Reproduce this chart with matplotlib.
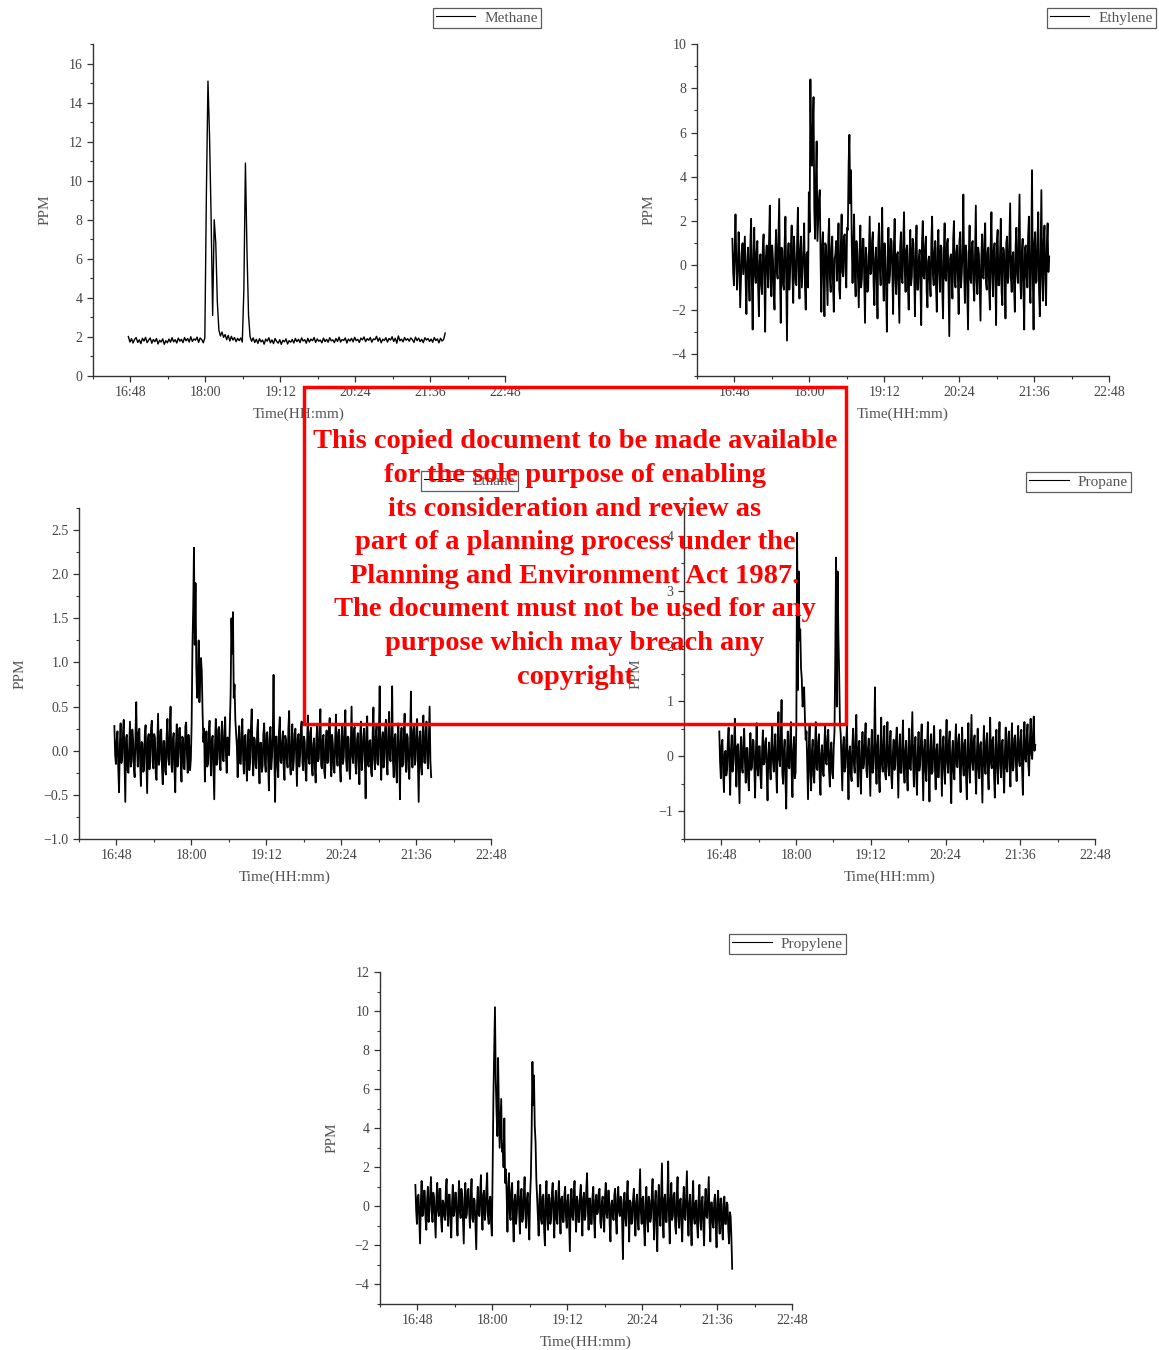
import numpy as np
import matplotlib.pyplot as plt
from matplotlib.patches import Rectangle
from matplotlib.ticker import MultipleLocator

plt.rcParams['font.family'] = ['Liberation Serif', 'DejaVu Serif']

# logging window: first reading 16:46, last reading 304.5 min later
START = "16:46"
SPAN_MIN = 304.5

x_tick_labels = ["16:48", "18:00", "19:12", "20:24", "21:36", "22:48"]
x_range = ["16:12", "22:48"]

# methane: one reading every 1.5 min
methane = [
    2.02, 1.74, 1.91, 1.69, 1.88, 1.97, 1.72, 1.85, 1.66, 1.93, 1.79, 1.98,
    1.71, 1.84, 1.95, 1.68, 1.87, 1.76, 1.92, 1.64, 1.83, 1.74, 1.90, 1.62,
    1.81, 1.70, 1.89, 1.73, 1.96, 1.75, 1.86, 1.69, 1.94, 1.78, 1.88, 1.71,
    1.97, 1.80, 1.92, 1.74, 2.01, 1.77, 1.90, 1.83, 1.99, 1.72, 1.95, 1.86,
    1.70, 1.96, 9.40, 15.1, 12.3, 8.20, 3.10, 8.00, 6.80, 3.80, 2.35, 2.05,
    2.25, 1.98, 2.12, 1.86, 2.08, 1.79, 2.03, 1.84, 1.97, 1.76, 1.93, 1.81,
    1.95, 1.74, 4.40, 10.9, 6.40, 3.10, 2.00, 1.78, 1.95, 1.72, 1.88, 1.67,
    1.91, 1.75, 1.84, 1.63, 1.89, 1.78, 1.96, 1.70, 1.85, 1.66, 1.92, 1.77,
    1.68, 1.86, 1.62, 1.83, 1.75, 1.90, 1.64, 1.81, 1.73, 1.87, 1.69, 1.92,
    1.76, 1.88, 1.71, 1.95, 1.79, 1.86, 1.68, 1.93, 1.74, 1.89, 1.81, 1.97,
    1.72, 1.90, 1.78, 1.84, 1.70, 1.94, 1.76, 1.88, 1.73, 1.96, 1.80, 1.85,
    1.71, 1.92, 1.77, 1.99, 1.74, 1.87, 1.82, 1.95, 1.69, 1.89, 1.79, 1.93,
    1.75, 1.98, 1.81, 1.88, 1.72, 1.94, 1.85, 2.00, 1.76, 1.91, 1.83, 1.97,
    1.73, 1.90, 1.86, 2.03, 1.78, 1.95, 1.70, 1.88, 1.82, 1.96, 1.74, 1.92,
    1.84, 2.01, 1.77, 1.93, 1.68, 2.05, 1.80, 1.89, 1.75, 1.97, 1.83, 1.91,
    1.78, 1.95, 1.86, 1.72, 1.99, 1.81, 1.94, 1.76, 1.88, 1.71, 1.96, 1.84,
    1.92, 1.77, 1.89, 1.73, 1.97, 1.82, 1.90, 1.70, 1.93, 1.79, 1.87, 2.20,
]

# the other four gases: one reading every 0.75 min
ethylene = [
    1.2, -0.3, -0.9, 0.7, 2.3, 0.2, -1.1, -0.2, 1.5, 0.4, -1.9, -0.6, 0.6, 1.0, -0.4, 0.5, 1.3, -0.7, -2.2, 0.1, 0.8, -0.5, -1.6, 0.9,
    2.1, -0.8, -2.9, 0.3, 1.7, -0.4, -0.8, 0.6, 1.1, -1.0, -2.3, 0.2, 0.5, -0.9, -1.3, 0.8, 1.4, -0.5, -3.0, 0.4, 0.9, -0.2, -1.0, 1.1,
    2.7, -0.6, -1.4, 0.9, 0.3, -1.2, -2.0, 0.5, 1.6, -0.3, -0.6, 1.2, 3.0, -0.4, -2.6, 0.8, 0.7, -0.9, -1.1, 1.0, 2.2, -0.7, -3.4, 0.3,
    1.0, -1.1, -0.3, 0.9, 1.8, -0.5, -1.7, 1.3, 0.4, -0.8, -0.9, 1.1, 2.6, -0.2, -1.5, 0.7, 1.3, -1.0, -0.2, 0.6, 1.9, -0.9, -2.0, 0.5,
    0.6, -1.0, 3.3, 1.5, 8.4, 4.8, 4.5, 6.2, 7.6, 2.5, 1.2, 3.8, 5.6, 1.1, 2.0, 3.0, 3.4, 0.4, -2.1, 0.8, 1.5, -0.6, -2.3, 1.0,
    0.9, -0.4, -1.8, 1.2, 2.1, -0.6, -1.2, 0.8, 1.3, -0.9, -2.1, 0.3, 0.5, 1.1, -0.7, 0.4, 1.9, -1.1, -1.5, 0.9, 2.3, -0.3, -0.5, 1.3,
    1.4, -0.2, -1.0, 1.7, 1.6, 4.6, 5.9, 2.8, 4.3, 1.0, -0.8, 0.9, 2.3, -0.5, -1.4, 1.1, 0.7, -0.6, -1.9, 0.5, 1.8, -1.0, -0.6, 1.2,
    1.2, -0.7, -2.6, 0.8, 0.4, -1.2, -1.1, 0.6, 2.2, -0.4, -0.3, 1.1, 1.5, -0.9, -1.8, 0.3, 0.8, -0.6, -2.4, 1.0, 1.9, -0.2, -0.9, 0.7,
    2.6, -0.5, -1.6, 1.0, 0.3, -1.1, -3.0, 0.4, 1.7, -0.8, -0.4, 1.2, 1.1, -0.3, -2.2, 0.9, 2.1, -0.7, -1.3, 0.5, 0.6, -1.0, -2.6, 0.8,
    1.5, -0.6, -0.8, 1.1, 2.4, -0.3, -1.2, 0.7, 0.9, -1.0, -2.0, 0.4, 1.6, -0.9, -0.5, 1.2, 1.0, -0.4, -2.3, 0.6, 1.8, -1.1, -1.1, 0.3,
    0.7, -0.8, -2.7, 1.0, 2.0, -0.5, -0.6, 0.9, 1.3, -1.2, -1.9, 0.2, 0.4, -0.7, -1.4, 1.1, 2.2, -0.4, -0.9, 0.6, 1.1, -1.0, -2.1, 0.8,
    1.6, -0.3, -1.2, 0.9, 0.8, -1.1, -2.4, 0.5, 1.9, -0.6, -0.7, 1.0, 1.2, -0.9, -3.2, 0.3, 0.5, -0.4, -1.5, 1.2, 2.0, -0.8, -1.0, 0.6,
    0.9, -0.5, -2.2, 1.1, 1.5, -1.0, -0.4, 0.7, 3.2, -0.3, -1.7, 0.9, 0.6, -1.2, -2.9, 0.4, 1.8, -0.6, -0.8, 1.0, 1.1, -0.9, -1.6, 0.5,
    2.7, -0.7, -1.3, 0.8, 0.5, -1.1, -2.5, 0.3, 1.4, -0.5, -0.6, 1.2, 1.9, -0.8, -1.1, 0.6, 0.8, -1.0, -2.0, 0.9, 2.4, -0.4, -1.4, 0.7,
    1.0, -0.6, -2.7, 1.1, 1.6, -0.9, -0.9, 0.5, 2.1, -1.2, -1.8, 0.8, 0.7, -0.3, -2.4, 1.0, 1.3, -0.8, -0.5, 1.2, 2.8, -0.6, -1.2, 0.4,
    0.6, -1.0, -2.1, 0.9, 1.7, -0.4, -0.8, 1.1, 3.2, -0.7, -1.5, 0.6, 1.2, -1.1, -2.9, 0.8, 0.9, -0.5, -1.0, 1.3, 2.2, -0.9, -1.7, 0.7,
    4.3, -0.4, -2.9, 1.0, 1.5, -0.8, -0.7, 1.2, 2.4, -1.1, -2.3, 0.6, 3.4, -0.5, -1.6, 1.1, 1.8, -0.7, -1.8, 0.9, 1.9, -0.3, 0.4,
]

ethane = [
    0.28, -0.05, -0.15, 0.12, 0.22, -0.20, -0.47, 0.08, 0.31, -0.14, -0.08, 0.20, 0.35, -0.10, -0.58, 0.15, 0.18, -0.22, -0.25, 0.06, 0.33, -0.18, -0.12, 0.24,
    0.12, -0.20, -0.30, 0.16, 0.55, 0.02, -0.18, 0.21, 0.25, -0.13, -0.40, 0.10, 0.08, -0.24, -0.22, 0.18, 0.29, -0.09, -0.48, 0.14, 0.19, -0.21, -0.05, 0.26,
    0.34, -0.12, -0.20, 0.19, 0.15, -0.26, -0.33, 0.07, 0.42, -0.16, -0.10, 0.23, 0.24, -0.19, -0.38, 0.11, 0.11, -0.23, -0.27, 0.17, 0.36, -0.08, -0.16, 0.22,
    0.50, -0.14, -0.24, 0.13, 0.20, -0.21, -0.47, 0.09, 0.30, -0.18, -0.06, 0.25, 0.26, -0.12, -0.35, 0.16, 0.14, -0.20, -0.21, 0.28, 0.32, -0.05, -0.25, 0.18,
    0.05, -0.22, -0.10, 0.30, 1.15, 1.60, 2.30, 1.20, 1.90, 0.95, 0.60, 0.80, 1.25, 0.55, 0.85, 1.05, 0.90, 0.45, 0.10, 0.25, -0.35, 0.05, 0.22, -0.18,
    -0.15, 0.20, 0.34, -0.08, -0.28, 0.14, 0.17, -0.20, -0.55, 0.10, 0.36, -0.16, -0.09, 0.24, 0.27, -0.13, -0.22, 0.18, 0.33, -0.10, -0.12, 0.21, 0.38, -0.06,
    -0.25, 0.15, 0.12, -0.05, 0.30, 0.65, 1.50, 1.10, 1.57, 0.60, 0.75, 0.35, 0.20, 0.05, -0.30, 0.12, 0.28, -0.14, -0.15, 0.20, 0.36, -0.10, -0.26, 0.17,
    0.18, -0.19, -0.34, 0.12, 0.24, -0.22, -0.10, 0.26, 0.47, -0.07, -0.28, 0.15, 0.13, -0.17, -0.20, 0.22, 0.35, -0.11, -0.37, 0.09, 0.09, -0.24, -0.17, 0.19,
    0.31, -0.15, -0.24, 0.20, 0.21, -0.09, -0.45, 0.13, 0.27, -0.21, -0.08, 0.18, 0.86, -0.04, -0.58, 0.16, 0.16, -0.19, -0.30, 0.23, 0.38, -0.12, -0.14, 0.10,
    0.22, -0.20, -0.33, 0.17, 0.12, -0.11, -0.19, 0.25, 0.45, -0.16, -0.27, 0.08, 0.30, -0.22, -0.11, 0.19, 0.25, -0.08, -0.40, 0.14, 0.19, -0.18, -0.06, 0.24,
    0.33, -0.13, -0.22, 0.16, 0.10, -0.23, -0.34, 0.11, 0.40, -0.09, -0.15, 0.21, 0.26, -0.18, -0.28, 0.07, 0.14, -0.20, -0.36, 0.15, 0.29, -0.12, -0.09, 0.22,
    0.47, -0.17, -0.20, 0.13, 0.18, -0.24, -0.31, 0.10, 0.23, -0.14, -0.12, 0.27, 0.37, -0.10, -0.29, 0.18, 0.08, -0.21, -0.25, 0.14, 0.41, -0.07, -0.17, 0.20,
    0.24, -0.19, -0.35, 0.12, 0.30, -0.15, -0.07, 0.23, 0.46, -0.11, -0.23, 0.16, 0.15, -0.20, -0.32, 0.09, 0.50, -0.06, -0.14, 0.24, 0.27, -0.17, -0.26, 0.13,
    0.20, -0.12, -0.38, 0.18, 0.33, -0.22, -0.10, 0.15, 0.25, -0.08, -0.54, 0.21, 0.39, -0.16, -0.18, 0.11, 0.12, -0.25, -0.29, 0.19, 0.49, -0.10, -0.21, 0.16,
    0.28, -0.14, -0.16, 0.22, 0.73, -0.05, -0.33, 0.12, 0.21, -0.19, -0.08, 0.25, 0.35, -0.13, -0.27, 0.17, 0.44, -0.09, -0.12, 0.20, 0.73, -0.11, -0.30, 0.14,
    0.19, -0.21, -0.36, 0.16, 0.31, -0.07, -0.55, 0.11, 0.26, -0.18, -0.15, 0.23, 0.42, -0.12, -0.24, 0.19, 0.15, -0.20, -0.32, 0.10, 0.67, -0.06, -0.19, 0.21,
    0.30, -0.16, -0.11, 0.24, 0.36, -0.09, -0.58, 0.14, 0.22, -0.19, -0.27, 0.18, 0.40, -0.13, -0.14, 0.22, 0.33, -0.10, -0.20, 0.17, 0.50, -0.12, -0.30,
]

propane = [
    0.45, -0.10, -0.40, 0.20, 0.30, -0.30, -0.65, 0.05, 0.10, -0.35, -0.25, 0.28, 0.52, -0.15, -0.70, 0.12, 0.38, -0.28, -0.15, 0.22, 0.68, -0.05, -0.55, 0.18,
    0.22, -0.32, -0.85, 0.10, 0.35, -0.20, -0.30, 0.25, 0.50, -0.12, -0.48, 0.15, 0.15, -0.38, -0.62, 0.08, 0.42, -0.25, -0.20, 0.30, 0.28, -0.18, -0.75, 0.05,
    0.60, -0.22, -0.35, 0.18, 0.18, -0.40, -0.58, 0.12, 0.47, -0.15, -0.12, 0.26, 0.33, -0.30, -0.80, 0.02, 0.25, -0.20, -0.42, 0.22, 0.55, -0.10, -0.28, 0.15,
    0.40, -0.25, -0.66, 0.20, 0.80, -0.05, -0.18, 0.32, 1.02, -0.30, -0.50, 0.10, 0.30, -0.42, -0.95, 0.06, 0.45, -0.18, -0.22, 0.28, 0.62, -0.35, -0.74, 0.12,
    0.35, -0.40, -0.30, 0.60, 4.05, 1.20, 3.35, 2.10, 2.30, 1.60, 1.40, 0.90, 1.00, 1.25, 0.70, 0.30, 0.45, -0.20, -0.78, 0.15, 0.55, -0.30, -0.62, 0.10,
    0.30, -0.35, -0.48, 0.18, 0.62, -0.22, -0.25, 0.26, 0.40, -0.40, -0.70, 0.05, 0.20, -0.28, -0.36, 0.20, 0.58, -0.12, -0.15, 0.32, 0.48, -0.25, -0.55, 0.10,
    0.25, -0.30, -0.40, 0.15, 0.45, 1.80, 3.60, 0.90, 3.35, 2.20, 1.50, 0.60, 0.40, -0.10, -0.62, 0.20, 0.35, -0.28, -0.20, 0.25, 0.58, -0.18, -0.78, 0.08,
    0.18, -0.32, -0.45, 0.22, 0.50, -0.15, -0.30, 0.28, 0.75, -0.08, -0.55, 0.16, 0.28, -0.38, -0.68, 0.10, 0.44, -0.22, -0.12, 0.30, 0.60, -0.26, -0.38, 0.14,
    0.32, -0.20, -0.72, 0.12, 0.48, -0.30, -0.22, 0.25, 1.25, -0.10, -0.50, 0.18, 0.38, -0.35, -0.65, 0.08, 0.70, -0.15, -0.28, 0.24, 0.55, -0.32, -0.42, 0.16,
    0.62, -0.18, -0.35, 0.20, 0.46, -0.38, -0.58, 0.06, 0.30, -0.25, -0.18, 0.28, 0.52, -0.12, -0.75, 0.14, 0.40, -0.30, -0.30, 0.22, 0.65, -0.20, -0.48, 0.10,
    0.28, -0.34, -0.62, 0.15, 0.50, -0.22, -0.25, 0.30, 0.80, -0.10, -0.55, 0.18, 0.35, -0.36, -0.70, 0.05, 0.44, -0.26, -0.15, 0.27, 0.58, -0.14, -0.80, 0.12,
    0.30, -0.28, -0.45, 0.20, 0.62, -0.16, -0.82, 0.08, 0.40, -0.32, -0.28, 0.24, 0.55, -0.20, -0.60, 0.12, 0.22, -0.38, -0.38, 0.18, 0.48, -0.10, -0.72, 0.14,
    0.36, -0.24, -0.50, 0.22, 0.66, -0.12, -0.30, 0.26, 0.45, -0.34, -0.85, 0.06, 0.28, -0.28, -0.42, 0.20, 0.58, -0.18, -0.20, 0.30, 0.40, -0.22, -0.65, 0.10,
    0.52, -0.15, -0.35, 0.24, 0.30, -0.36, -0.78, 0.12, 0.60, -0.20, -0.48, 0.18, 0.75, -0.10, -0.25, 0.28, 0.38, -0.30, -0.68, 0.08, 0.50, -0.24, -0.40, 0.20,
    0.26, -0.32, -0.84, 0.10, 0.55, -0.18, -0.32, 0.26, 0.42, -0.28, -0.60, 0.15, 0.70, -0.12, -0.22, 0.30, 0.35, -0.36, -0.75, 0.12, 0.48, -0.20, -0.50, 0.22,
    0.62, -0.16, -0.38, 0.25, 0.30, -0.30, -0.66, 0.10, 0.52, -0.22, -0.28, 0.28, 0.45, -0.14, -0.55, 0.20, 0.60, -0.26, -0.20, 0.32, 0.38, -0.12, -0.45, 0.24,
    0.55, -0.08, -0.18, 0.30, 0.48, -0.22, -0.70, 0.18, 0.62, -0.05, -0.10, 0.35, 0.58, -0.15, -0.35, 0.28, 0.68, 0.05, -0.05, 0.40, 0.72, 0.10, 0.20,
]

propylene = [
    1.1, -0.2, -0.9, 0.5, 0.6, -0.7, -1.9, 0.2, 1.3, -0.5, -0.4, 0.8, 0.8, -0.6, -1.2, 0.3, 1.0, -0.8, -0.2, 0.6, 1.5, -0.3, -0.8, 0.7,
    0.4, -0.6, -1.6, 0.4, 1.2, -0.2, -0.5, 0.9, 0.9, -0.7, -1.3, 0.3, 0.2, -0.5, -0.7, 0.8, 1.4, -0.4, -1.0, 0.6, 0.6, -0.8, -1.6, 0.2,
    1.1, -0.5, -0.3, 0.7, 0.7, -0.8, -1.5, 0.3, 1.3, -0.2, -0.6, 0.9, 0.5, -0.7, -1.9, 0.4, 1.2, -0.6, -0.4, 0.8, 0.9, -0.3, -1.1, 0.5,
    1.4, -0.6, -0.8, 0.4, 0.3, -0.9, -2.2, 0.1, 1.0, -0.4, -0.5, 0.7, 1.6, -0.3, -1.2, 0.6, 0.8, -0.7, -0.3, 0.9, 1.7, -0.5, -0.9, 0.3,
    0.5, -0.8, -1.5, 1.8, 5.6, 8.0, 10.2, 6.5, 4.9, 3.6, 7.6, 5.0, 3.0, 4.2, 5.5, 2.8, 3.2, 2.0, 4.5, 1.2, 1.9, 0.6, -1.3, 0.9,
    1.7, -0.4, -0.7, 0.8, 1.2, -0.6, -1.8, 0.3, 0.6, -0.9, -0.4, 0.7, 1.3, -0.3, -1.4, 0.5, 0.9, -0.8, -0.6, 0.6, 1.5, -0.4, -1.1, 0.4,
    0.7, -0.6, -1.7, 0.5, 1.5, 3.8, 7.4, 5.2, 6.7, 4.1, 3.3, 1.4, 0.5, -0.5, -1.5, 0.4, 1.1, -0.7, -0.9, 0.5, 0.6, -1.2, -2.0, 0.3,
    1.3, -0.5, -1.2, 0.6, 0.4, -0.9, -0.6, 0.7, 1.2, -0.4, -1.6, 0.2, 0.8, -0.7, -0.9, 0.5, 1.3, -0.3, -1.4, 0.4, 0.5, -0.8, -0.8, 0.6,
    1.0, -0.6, -1.1, 0.3, 0.6, -0.9, -2.3, 0.2, 0.9, -0.5, -0.7, 0.7, 1.3, -0.4, -1.3, 0.5, 0.3, -0.8, -0.8, 0.6, 1.1, -0.3, -1.5, 0.4,
    0.7, -0.7, -0.5, 0.8, 1.7, -0.2, -1.2, 0.4, 0.4, -0.9, -0.9, 0.5, 1.0, -0.6, -1.6, 0.3, 0.6, -0.4, -0.3, 0.7, 0.9, -0.8, -1.1, 0.2,
    0.5, -0.6, -1.3, 0.5, 1.2, -0.4, -0.6, 0.8, 0.8, -0.9, -1.8, 0.1, 0.3, -0.5, -0.7, 0.6, 0.9, -0.7, -1.4, 0.4, 1.0, -0.3, -0.5, 0.5,
    0.4, -0.8, -2.7, 0.2, 0.7, -0.6, -1.0, 0.5, 1.3, -0.4, -1.8, 0.3, 0.2, -0.9, -0.8, 0.4, 0.9, -0.5, -1.5, 0.2, 0.6, -0.7, -1.2, 0.3,
    1.9, -0.3, -0.9, 0.4, 0.5, -1.0, -2.0, 0.1, 1.0, -0.6, -1.3, 0.5, 0.3, -0.8, -0.6, 0.6, 1.4, -0.5, -1.7, 0.2, 0.8, -0.9, -2.3, 0.3,
    1.1, -0.4, -1.0, 0.7, 2.2, -0.6, -1.6, 0.4, 0.6, -0.8, -0.8, 0.5, 2.3, -0.5, -1.9, 0.3, 1.2, -0.7, -0.5, 0.6, 0.7, -1.0, -1.4, 0.4,
    1.5, -0.5, -1.1, 0.3, 0.4, -0.9, -1.8, 0.2, 1.0, -0.6, -0.7, 0.5, 1.8, -0.4, -1.5, 0.1, 0.6, -0.8, -2.0, 0.3, 1.3, -0.6, -0.9, 0.2,
    0.3, -0.9, -1.6, 0.4, 1.1, -0.7, -1.2, 0.3, 0.5, -1.0, -2.0, 0.1, 0.9, -0.5, -0.6, 0.4, 1.5, -0.8, -1.8, 0.2, 0.2, -0.9, -1.1, 0.3,
    0.6, -1.0, -2.1, 0.2, 0.8, -0.7, -1.4, 0.4, 0.4, -1.1, -1.7, 0.1, 0.5, -0.9, -0.9, 0.2, 0.1, -1.2, -1.9, -0.3, -0.5, -1.6, -3.2,
]


def to_min(s):
    h, m = s.split(":")
    return int(h) * 60 + int(m)


W, H = 1159, 1350
fig = plt.figure(figsize=(W / 100, H / 100), dpi=100)


def px_rect(left, top, right, bottom):
    return [left / W, 1 - bottom / H, (right - left) / W, (bottom - top) / H]


# name, data, line width, ylim, major, minor, axes box (px), legend anchor (px)
panels = [
    ("Methane", methane, 1.0, (0, 17), 2, 1, (93, 44, 505, 376), (541, 8)),
    ("Ethylene", ethylene, 1.3, (-5, 10), 2, 1, (697, 44, 1109, 376), (1156, 8)),
    ("Ethane", ethane, 1.3, (-1.0, 2.75), 0.5, 0.25, (79, 508, 491, 839), (518, 471)),
    ("Propane", propane, 1.3, (-1.5, 4.5), 1, 0.5, (684, 508, 1095, 839), (1131, 472)),
    ("Propylene", propylene, 1.3, (-5, 12), 2, 1, (380, 972, 792, 1304), (846, 934)),
]

txt_col = "#444444"
for name, vals, lw, ylim, major, minor, box, leg in panels:
    ax = fig.add_axes(px_rect(*box))
    t0 = to_min(START)
    t = np.linspace(t0, t0 + SPAN_MIN, len(vals))
    ax.plot(t, vals, color="black", lw=lw, label=name)
    ax.set_xlim(to_min(x_range[0]), to_min(x_range[1]))
    ax.set_ylim(*ylim)
    ax.set_xticks([to_min(s) for s in x_tick_labels])
    ax.set_xticklabels(x_tick_labels)
    ax.xaxis.set_minor_locator(MultipleLocator(36))
    ax.yaxis.set_major_locator(MultipleLocator(major))
    ax.yaxis.set_minor_locator(MultipleLocator(minor))
    for s in ("top", "right"):
        ax.spines[s].set_visible(False)
    for s in ("left", "bottom"):
        ax.spines[s].set_color("#333333")
        ax.spines[s].set_linewidth(1.0)
    ax.tick_params(which="major", length=4, width=0.9, color="#333333",
                   labelsize=10, labelcolor=txt_col)
    ax.tick_params(which="minor", length=2, width=0.8, color="#333333")
    ax.set_xlabel("Time(HH:mm)", fontsize=11, color="#555555", labelpad=6)
    ax.set_ylabel("PPM", fontsize=11, color="#555555", labelpad=12)
    lg = ax.legend(loc="upper right", bbox_to_anchor=(leg[0] / W, 1 - leg[1] / H),
                   bbox_transform=fig.transFigure, frameon=True, fancybox=False,
                   edgecolor="#333333", fontsize=11, handlelength=2.6,
                   borderpad=0.2, borderaxespad=0, handletextpad=0.6)
    lg.get_frame().set_linewidth(0.9)
    lg.get_lines()[0].set_linewidth(0.8)
    for tx in lg.get_texts():
        tx.set_color("#555555")

# watermark stamp
fig.patches.append(Rectangle((304 / W, 1 - 724 / H), 542 / W, 337 / H,
                             transform=fig.transFigure, fill=False,
                             edgecolor="#ff0000", linewidth=2.5, zorder=10))
stamp = [
    "This copied document to be made available",
    "for the sole purpose of enabling",
    "its consideration and review as",
    "part of a planning process under the",
    "Planning and Environment Act 1987.",
    "The document must not be used for any",
    "purpose which may breach any",
    "copyright",
]
for i, line in enumerate(stamp):
    fig.text(575 / W, 1 - (442 + 33.6 * i) / H, line, ha="center", va="center",
             color="#ff0000", fontsize=20.5, fontweight="bold", zorder=11)

fig.savefig("out.png", dpi=100)
